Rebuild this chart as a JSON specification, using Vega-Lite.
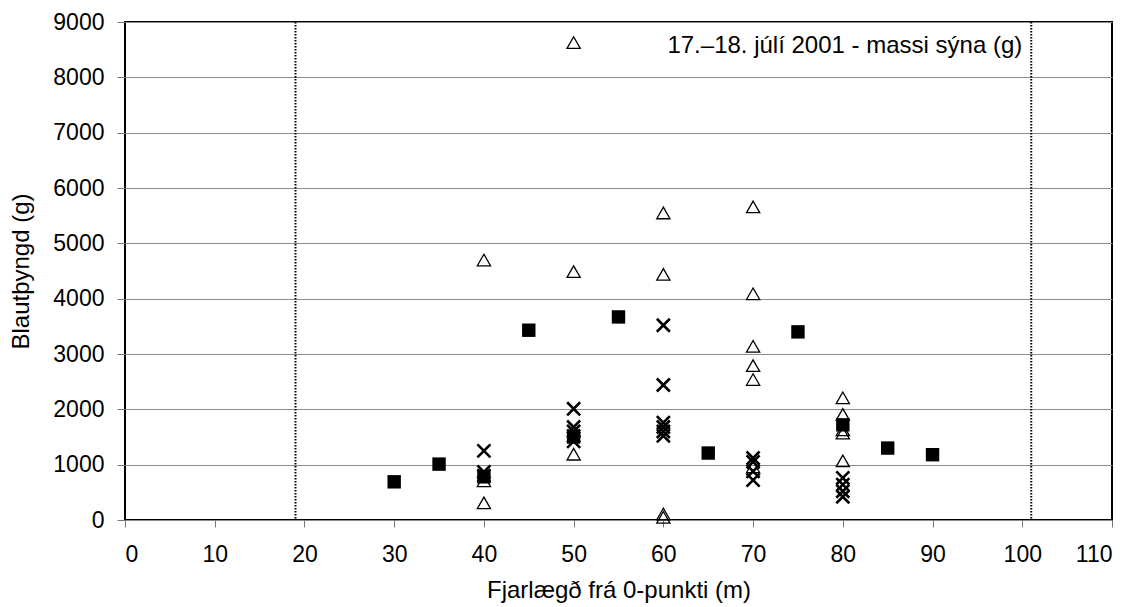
{
  "$schema": "https://vega.github.io/schema/vega-lite/v6.json",
  "width": 987,
  "height": 498,
  "autosize": "none",
  "padding": {"left": 125, "top": 22, "right": 30, "bottom": 87},
  "background": "white",
  "config": {
    "font": "Liberation Sans",
    "view": {"stroke": "black", "strokeWidth": 2},
    "axis": {
      "domain": false,
      "ticks": true,
      "tickColor": "#777777",
      "tickSize": 7,
      "labelFont": "Liberation Sans",
      "labelFontSize": 23,
      "labelColor": "black",
      "titleFont": "Liberation Sans",
      "titleFontSize": 24,
      "titleFontWeight": "normal",
      "titleColor": "black"
    }
  },
  "datasets": {
    "samples": [
      {"dist": 30, "mass": 690, "series": "ferningur"},
      {"dist": 35, "mass": 1010, "series": "ferningur"},
      {"dist": 40, "mass": 780, "series": "ferningur"},
      {"dist": 45, "mass": 3430, "series": "ferningur"},
      {"dist": 50, "mass": 1500, "series": "ferningur"},
      {"dist": 55, "mass": 3670, "series": "ferningur"},
      {"dist": 65, "mass": 1210, "series": "ferningur"},
      {"dist": 75, "mass": 3400, "series": "ferningur"},
      {"dist": 80, "mass": 1720, "series": "ferningur"},
      {"dist": 85, "mass": 1300, "series": "ferningur"},
      {"dist": 90, "mass": 1180, "series": "ferningur"},

      {"dist": 40, "mass": 4690, "series": "þríhyrningur"},
      {"dist": 40, "mass": 700, "series": "þríhyrningur"},
      {"dist": 40, "mass": 300, "series": "þríhyrningur"},
      {"dist": 50, "mass": 8620, "series": "þríhyrningur"},
      {"dist": 50, "mass": 4480, "series": "þríhyrningur"},
      {"dist": 50, "mass": 1180, "series": "þríhyrningur"},
      {"dist": 60, "mass": 5540, "series": "þríhyrningur"},
      {"dist": 60, "mass": 4430, "series": "þríhyrningur"},
      {"dist": 60, "mass": 100, "series": "þríhyrningur"},
      {"dist": 60, "mass": 40, "series": "þríhyrningur"},
      {"dist": 70, "mass": 5650, "series": "þríhyrningur"},
      {"dist": 70, "mass": 4080, "series": "þríhyrningur"},
      {"dist": 70, "mass": 3130, "series": "þríhyrningur"},
      {"dist": 70, "mass": 2780, "series": "þríhyrningur"},
      {"dist": 70, "mass": 2530, "series": "þríhyrningur"},
      {"dist": 70, "mass": 950, "series": "þríhyrningur"},
      {"dist": 80, "mass": 2200, "series": "þríhyrningur"},
      {"dist": 80, "mass": 1900, "series": "þríhyrningur"},
      {"dist": 80, "mass": 1620, "series": "þríhyrningur"},
      {"dist": 80, "mass": 1560, "series": "þríhyrningur"},
      {"dist": 80, "mass": 1060, "series": "þríhyrningur"},

      {"dist": 40, "mass": 1250, "series": "kross"},
      {"dist": 40, "mass": 870, "series": "kross"},
      {"dist": 40, "mass": 800, "series": "kross"},
      {"dist": 50, "mass": 2010, "series": "kross"},
      {"dist": 50, "mass": 1680, "series": "kross"},
      {"dist": 50, "mass": 1600, "series": "kross"},
      {"dist": 50, "mass": 1520, "series": "kross"},
      {"dist": 50, "mass": 1420, "series": "kross"},
      {"dist": 60, "mass": 3520, "series": "kross"},
      {"dist": 60, "mass": 2440, "series": "kross"},
      {"dist": 60, "mass": 1760, "series": "kross"},
      {"dist": 60, "mass": 1680, "series": "kross"},
      {"dist": 60, "mass": 1600, "series": "kross"},
      {"dist": 60, "mass": 1520, "series": "kross"},
      {"dist": 70, "mass": 1120, "series": "kross"},
      {"dist": 70, "mass": 1050, "series": "kross"},
      {"dist": 70, "mass": 880, "series": "kross"},
      {"dist": 70, "mass": 720, "series": "kross"},
      {"dist": 80, "mass": 760, "series": "kross"},
      {"dist": 80, "mass": 640, "series": "kross"},
      {"dist": 80, "mass": 520, "series": "kross"},
      {"dist": 80, "mass": 420, "series": "kross"}
    ],
    "bounds": [{"dist": 19}, {"dist": 101}],
    "note": [{"dist": 100, "mass": 8570, "label": "17.–18. júlí 2001 - massi sýna (g)"}]
  },
  "layer": [
    {
      "data": {"name": "bounds"},
      "mark": {"type": "rule", "color": "black", "strokeWidth": 2, "strokeDash": [1.5, 1.5]},
      "encoding": {
        "x": {
          "field": "dist", "type": "quantitative",
          "scale": {"domain": [0, 110], "nice": false},
          "axis": {
            "values": [0, 10, 20, 30, 40, 50, 60, 70, 80, 90, 100, 110],
            "grid": false,
            "labelPadding": 16,
            "title": "Fjarlægð frá 0-punkti (m)",
            "titlePadding": 12
          }
        }
      }
    },
    {
      "data": {"name": "samples"},
      "mark": {"type": "point", "opacity": 1},
      "encoding": {
        "x": {"field": "dist", "type": "quantitative"},
        "y": {
          "field": "mass", "type": "quantitative",
          "scale": {"domain": [0, 9000], "nice": false},
          "axis": {
            "values": [0, 1000, 2000, 3000, 4000, 5000, 6000, 7000, 8000, 9000],
            "format": "d",
            "grid": true,
            "gridColor": "#8c8c8c",
            "gridWidth": 1,
            "tickSize": 8,
            "labelPadding": 13,
            "title": "Blautþyngd (g)",
            "titlePadding": 19
          }
        },
        "shape": {
          "field": "series", "type": "nominal", "legend": null,
          "scale": {
            "domain": ["ferningur", "þríhyrningur", "kross"],
            "range": ["square", "M0,-0.95L1,0.8L-1,0.8Z", "M-1,-1L1,1M-1,1L1,-1"]
          }
        },
        "size": {
          "field": "series", "type": "nominal", "legend": null,
          "scale": {"domain": ["ferningur", "þríhyrningur", "kross"], "range": [180, 170, 330]}
        },
        "fill": {
          "field": "series", "type": "nominal", "legend": null,
          "scale": {"domain": ["ferningur", "þríhyrningur", "kross"], "range": ["black", "transparent", "transparent"]}
        },
        "stroke": {
          "field": "series", "type": "nominal", "legend": null,
          "scale": {"domain": ["ferningur", "þríhyrningur", "kross"], "range": ["transparent", "black", "black"]}
        },
        "strokeWidth": {
          "field": "series", "type": "nominal", "legend": null,
          "scale": {"domain": ["ferningur", "þríhyrningur", "kross"], "range": [0, 2.6, 2.4]}
        }
      }
    },
    {
      "data": {"name": "note"},
      "mark": {"type": "text", "align": "right", "baseline": "middle", "fontSize": 24, "font": "Liberation Sans", "color": "black"},
      "encoding": {
        "x": {"field": "dist", "type": "quantitative"},
        "y": {"field": "mass", "type": "quantitative"},
        "text": {"field": "label"}
      }
    }
  ]
}
